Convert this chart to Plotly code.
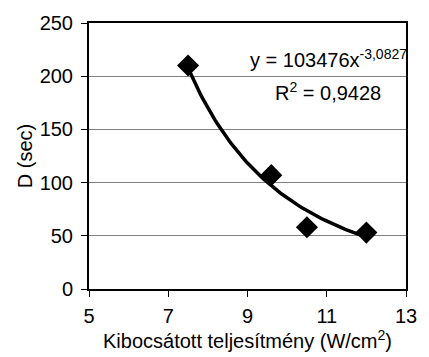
import numpy as np
import plotly.graph_objects as go

x_vals = [7.5, 9.6, 10.5, 12.0]
y_vals = [210, 107, 58, 53]
coef_a = 103476
coef_b = -3.0827
x_ticks = [5, 7, 9, 11, 13]
y_ticks = [0, 50, 100, 150, 200, 250]

xt = np.linspace(min(x_vals), max(x_vals), 100)
yt = coef_a * xt ** coef_b

fig = go.Figure()
fig.add_trace(go.Scatter(x=xt, y=yt, mode="lines", line=dict(color="black", width=3.5), showlegend=False, hoverinfo="skip"))
fig.add_trace(go.Scatter(x=x_vals, y=y_vals, mode="markers",
                         marker=dict(symbol="diamond", size=17, color="black"), showlegend=False))

font = "Arial, Liberation Sans, sans-serif"
fig.update_layout(
    width=429, height=357,
    margin=dict(l=89, r=13, t=18, b=68),
    paper_bgcolor="white", plot_bgcolor="white",
    font=dict(family=font, size=20, color="black"),
    xaxis=dict(range=[5, 13], tickvals=x_ticks, showgrid=False, zeroline=False,
               showline=True, linecolor="black", linewidth=2, mirror=True,
               ticks="outside", ticklen=6, tickcolor="black", tickwidth=1,
               tickfont=dict(family=font, size=20, color="black"), ticklabelstandoff=2,
               title=dict(text="Kibocsátott teljesítmény (W/cm<sup>2</sup>)", font=dict(family=font, size=20, color="black"), standoff=3)),
    yaxis=dict(range=[0, 250], tickvals=y_ticks, showgrid=True, gridcolor="#808080", gridwidth=1,
               zeroline=False, showline=True, linecolor="black", linewidth=2, mirror=True,
               ticks="outside", ticklen=6, tickcolor="black", tickwidth=1,
               tickfont=dict(family=font, size=20, color="black"), ticklabelstandoff=4,
               title=dict(text="D (sec)", font=dict(family=font, size=20, color="black"), standoff=2)),
    annotations=[
        dict(xref="paper", yref="paper", x=(419 - 89) / 327, y=(289 - 54) / 271, xanchor="right", yanchor="middle",
             text="y = 103476x<sup>-3,0827</sup>", showarrow=False, font=dict(family=font, size=20, color="black")),
        dict(xref="paper", yref="paper", x=(336 - 89) / 327, y=(289 - 88) / 271, xanchor="center", yanchor="middle",
             text="R<sup>2</sup> = 0,9428", showarrow=False, font=dict(family=font, size=20, color="black")),
    ],
)
fig.write_html("out.html")
